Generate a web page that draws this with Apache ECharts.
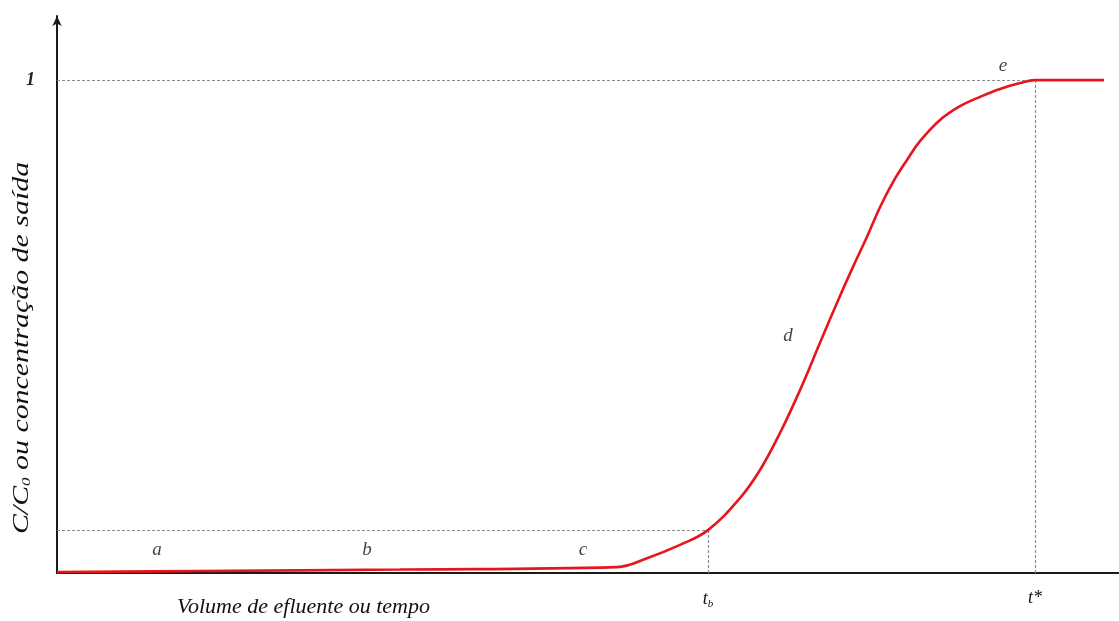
<!DOCTYPE html>
<html>
<head>
<meta charset="utf-8">
<script src="https://cdn.jsdelivr.net/npm/echarts@6/dist/echarts.min.js"></script>
<style>
  html, body { margin: 0; padding: 0; background: #fff; }
  #chart { width: 1119px; height: 621px; }
</style>
</head>
<body>
<div id="chart"></div>
<script>
// Breakthrough curve: outlet concentration vs. effluent volume / time
const volume = [0, 14.3, 34.3, 56.0, 59.0, 62.3, 65.1, 68.3, 70.3, 72.3, 74.3, 76.3, 78.3,
                79.6, 81.0, 82.3, 83.6, 85.0, 86.3, 88.3, 90.3, 92.3, 94.3, 96.3, 97.8, 104.7];
const ratio  = [0.002, 0.004, 0.007, 0.012, 0.030, 0.057, 0.087, 0.152, 0.209, 0.284, 0.371, 0.467, 0.562,
                0.621, 0.682, 0.742, 0.793, 0.838, 0.876, 0.919, 0.947, 0.966, 0.982, 0.994, 1.0, 1.0];

// reference points on the curve
const breakX = 65.1;     // t_b
const breakY = 0.087;
const satX = 97.8;       // t*
const satY = 1.0;

// zone letters along the curve
const zoneNames = ['a', 'b', 'c', 'd', 'e'];
const zoneX = [10.0, 31.0, 52.6, 73.1, 94.6];
const zoneY = [0.047, 0.047, 0.047, 0.481, 1.028];

const xTickValues = [breakX, satX];
const xTickLabels = ['t{s|b}', 't*'];
const yTickValues = [1];
const yTickLabels = ['1'];

const serif = "'Liberation Serif', 'Times New Roman', serif";
const curve = volume.map((v, i) => [v, ratio[i]]);
const zones = zoneNames.map((n, i) => [zoneX[i], zoneY[i], n]);
const guide = { color: '#8c8c8c', width: 1.2, type: [3, 2] };

const chart = echarts.init(document.getElementById('chart'), null, { renderer: 'canvas' });
chart.setOption({
  animation: false,
  backgroundColor: '#ffffff',
  grid: { left: 57, right: 0, top: 16, bottom: 48 },
  xAxis: {
    type: 'value', min: 0, max: 106.2,
    splitLine: { show: false },
    axisLine: { show: true, lineStyle: { color: '#1a1a1a', width: 2 } },
    axisTick: { show: false },
    axisLabel: {
      customValues: xTickValues,
      margin: 16,
      formatter: v => xTickLabels[xTickValues.indexOf(v)] || '',
      fontFamily: serif, fontStyle: 'italic', fontSize: 18, color: '#111',
      rich: { s: { fontFamily: serif, fontStyle: 'italic', fontSize: 11, color: '#111', padding: [10, 0, 0, 0] } }
    }
  },
  yAxis: {
    type: 'value', min: 0, max: 1.13,
    splitLine: { show: false },
    axisLine: { show: true, symbol: ['none', 'arrow'], symbolSize: [7, 10],
                lineStyle: { color: '#1a1a1a', width: 2 } },
    axisTick: { show: false },
    axisLabel: {
      customValues: yTickValues,
      margin: 22,
      formatter: v => yTickLabels[yTickValues.indexOf(v)] || '',
      fontFamily: serif, fontStyle: 'italic', fontWeight: 'bold', fontSize: 18, color: '#222'
    }
  },
  graphic: [
    {
      type: 'text', x: 177, y: 607,
      style: { text: 'Volume de efluente ou tempo', font: "italic 22px " + serif,
               fill: '#111', align: 'left', verticalAlign: 'middle' }
    },
    {
      type: 'text', x: 22, y: 348, rotation: Math.PI / 2, scaleX: 1.3,
      style: {
        text: 'C/C{s|0} ou concentração de saída',
        font: "italic 23px " + serif, fill: '#111', align: 'center', verticalAlign: 'middle',
        rich: { s: { font: "italic 13px " + serif, fill: '#111', padding: [9, 0, 0, 0] } }
      }
    }
  ],
  series: [
    {
      type: 'line',
      data: curve,
      showSymbol: false,
      smooth: 0.4,
      lineStyle: { color: '#e5161d', width: 2.6 },
      z: 5,
      markLine: {
        silent: true, symbol: 'none', label: { show: false },
        lineStyle: guide,
        data: [
          [{ coord: [0, satY] }, { coord: [satX, satY] }],
          [{ coord: [satX, satY] }, { coord: [satX, 0] }],
          [{ coord: [0, breakY] }, { coord: [breakX, breakY] }],
          [{ coord: [breakX, breakY] }, { coord: [breakX, 0] }]
        ]
      }
    },
    {
      type: 'scatter',
      data: zones,
      symbolSize: 0,
      silent: true,
      label: {
        show: true, position: 'inside',
        formatter: p => p.data[2],
        fontFamily: serif, fontStyle: 'italic', fontSize: 19, color: '#111'
      }
    }
  ]
});
</script>
</body>
</html>
